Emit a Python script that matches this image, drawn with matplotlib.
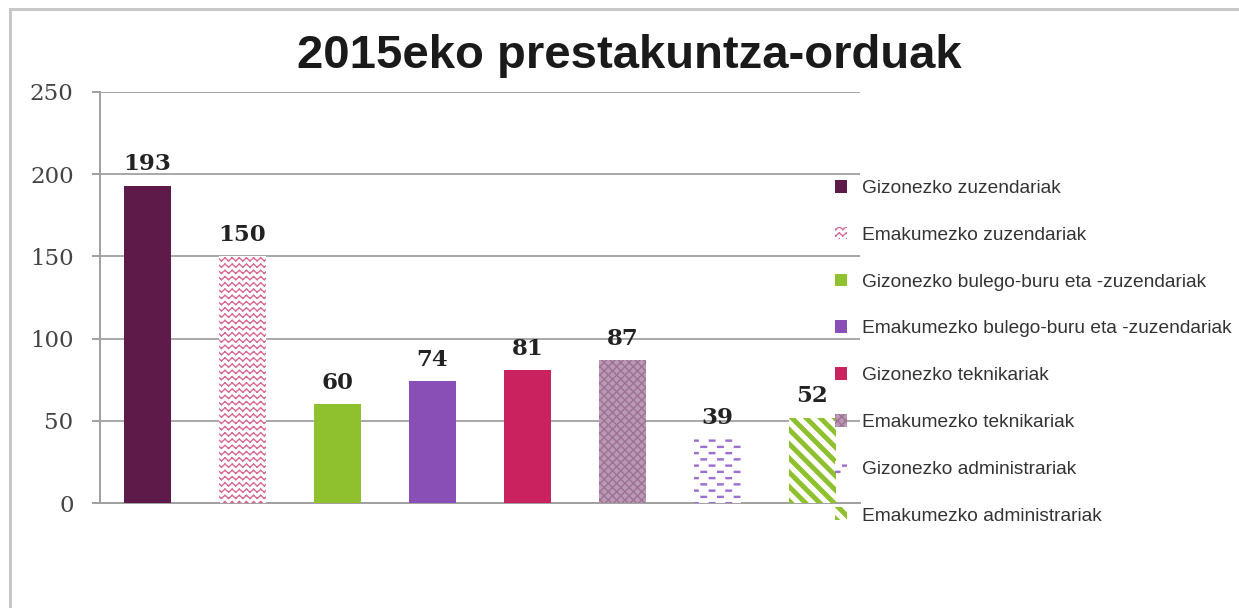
import warnings
import numpy as np
import matplotlib
matplotlib.use('Agg')
from matplotlib import pyplot as plt
from matplotlib import hatch as mhatch
from matplotlib.path import Path
from matplotlib.patches import Rectangle

# custom hatch letters are not in matplotlib's list, silence the nag
warnings.filterwarnings('ignore', message='hatch must consist')

title = '2015eko prestakuntza-orduak'
labels = ['Gizonezko zuzendariak',
          'Emakumezko zuzendariak',
          'Gizonezko bulego-buru eta -zuzendariak',
          'Emakumezko bulego-buru eta -zuzendariak',
          'Gizonezko teknikariak',
          'Emakumezko teknikariak',
          'Gizonezko administrariak',
          'Emakumezko administrariak']
hours = [193, 150, 60, 74, 81, 87, 39, 52]
y_ticks = [0, 50, 100, 150, 200, 250]

faces = ['#5e1b4a', 'white', '#8fc02d', '#8a4fb6', '#c9225f', '#b999b4', 'white', 'white']
edges = ['#5e1b4a', '#d86a96', '#8fc02d', '#8a4fb6', '#c9225f', '#9c7394', '#9a6fce', '#8fc02d']
hatches = [None, 'z', None, None, None, 'xxxx', 'm', 'd']


class ZigZagHatch(mhatch.HatchPatternBase):
    # rows of little zigzags, letter 'z'
    def __init__(self, hatch, density):
        n = hatch.count('z')
        self.rows = 16 * n
        self.waves = 14 * n
        self.num_vertices = self.rows * self.waves * 4

    def set_vertices_and_codes(self, vertices, codes):
        amp = 0.015
        pts = []
        for r in range(self.rows):
            y = (r + 0.5) / self.rows
            for k in range(self.waves):
                x0 = k / self.waves
                x1 = (k + 0.5) / self.waves
                x2 = (k + 1) / self.waves
                pts += [(x0, y - amp), (x1, y + amp), (x1, y + amp), (x2, y - amp)]
        vertices[:] = pts
        codes[0::2] = Path.MOVETO
        codes[1::2] = Path.LINETO


class DashRowsHatch(mhatch.HatchPatternBase):
    # staggered short dashes, letter 'm'
    def __init__(self, hatch, density):
        n = hatch.count('m')
        self.rows = 16 * n
        self.per_row = 6 * n
        self.num_vertices = self.rows * self.per_row * 5

    def set_vertices_and_codes(self, vertices, codes):
        length = 0.055
        h = 0.005
        pts = []
        for r in range(self.rows):
            y = (r + 0.5) / self.rows
            shift = 0.5 if r % 2 else 0.0
            for k in range(self.per_row):
                xs = (k + shift) / self.per_row + 0.01
                pts += [(xs, y - h), (xs + length, y - h), (xs + length, y + h),
                        (xs, y + h), (xs, y - h)]
        vertices[:] = pts
        codes[:] = Path.LINETO
        codes[0::5] = Path.MOVETO
        codes[4::5] = Path.CLOSEPOLY


class StripeHatch(mhatch.HatchPatternBase):
    # thick stripes running down to the right, letter 'd'
    def __init__(self, hatch, density):
        n = hatch.count('d')
        self.n = 7 * n
        self.count = 3 * self.n + 1 if n else 0
        self.num_vertices = self.count * 5

    def set_vertices_and_codes(self, vertices, codes):
        w = 0.05
        pts = []
        for k in range(-self.n, 2 * self.n + 1):
            c = k / self.n
            pts += [(c + 0.5, -0.5), (c - 1.5, 1.5), (c + w - 1.5, 1.5),
                    (c + w + 0.5, -0.5), (c + 0.5, -0.5)]
        vertices[:] = pts
        codes[:] = Path.LINETO
        codes[0::5] = Path.MOVETO
        codes[4::5] = Path.CLOSEPOLY


mhatch._hatch_types.extend([ZigZagHatch, DashRowsHatch, StripeHatch])


def main():
    fig = plt.figure(figsize=(12.39, 6.08), dpi=100)
    ax = fig.add_axes([100 / 1239, 105 / 608, 760 / 1239, 411 / 608])

    x = np.arange(len(hours))
    for i in range(len(hours)):
        ax.bar(x[i], hours[i], 0.5, color=faces[i], edgecolor=edges[i],
               hatch=hatches[i], linewidth=0, label=labels[i], zorder=3)
        ax.annotate(str(hours[i]), (x[i], hours[i]), xytext=(0, 11),
                    textcoords='offset points', ha='center', va='baseline',
                    fontsize=16.5, fontweight='bold', family='DejaVu Serif',
                    color='#222222')

    ax.set_xlim(-0.5, len(hours) - 0.5)
    ax.set_ylim(0, 250)
    ax.set_yticks(y_ticks)
    ax.set_xticks([])
    ax.yaxis.grid(True, color='#a8a8a8', linewidth=1.4)
    ax.set_axisbelow(True)
    for side in ['top', 'right']:
        ax.spines[side].set_visible(False)
    for side in ['left', 'bottom']:
        ax.spines[side].set_color('#a0a0a0')
        ax.spines[side].set_linewidth(1.4)
    ax.tick_params(axis='y', length=6, width=1.4, color='#a0a0a0', pad=13,
                   labelsize=16.5, labelcolor='#444444')
    for lbl in ax.get_yticklabels():
        lbl.set_fontfamily('DejaVu Serif')

    fig.text(629 / 1239, 1 - 68 / 608, title, ha='center', va='baseline',
             fontsize=34, fontweight='bold', family='Liberation Sans',
             color='#1a1a1a')

    leg = fig.legend(loc='upper left', bbox_to_anchor=(835 / 1239, 1 - 180 / 608),
                     frameon=False, prop={'family': 'Liberation Sans', 'size': 13.8},
                     handlelength=0.64, handleheight=0.64, handletextpad=0.78,
                     labelspacing=1.55, borderpad=0, borderaxespad=0)
    for t in leg.get_texts():
        t.set_color('#333333')

    # light frame round the chart, cut off at right and bottom
    fig.add_artist(Rectangle((10 / 1239, -0.1), 1.0, 1.1 - 9 / 608,
                             transform=fig.transFigure, fill=False,
                             edgecolor='#c8c8c8', linewidth=2.2))

    fig.savefig('out.png', dpi=100)


if __name__ == '__main__':
    main()
